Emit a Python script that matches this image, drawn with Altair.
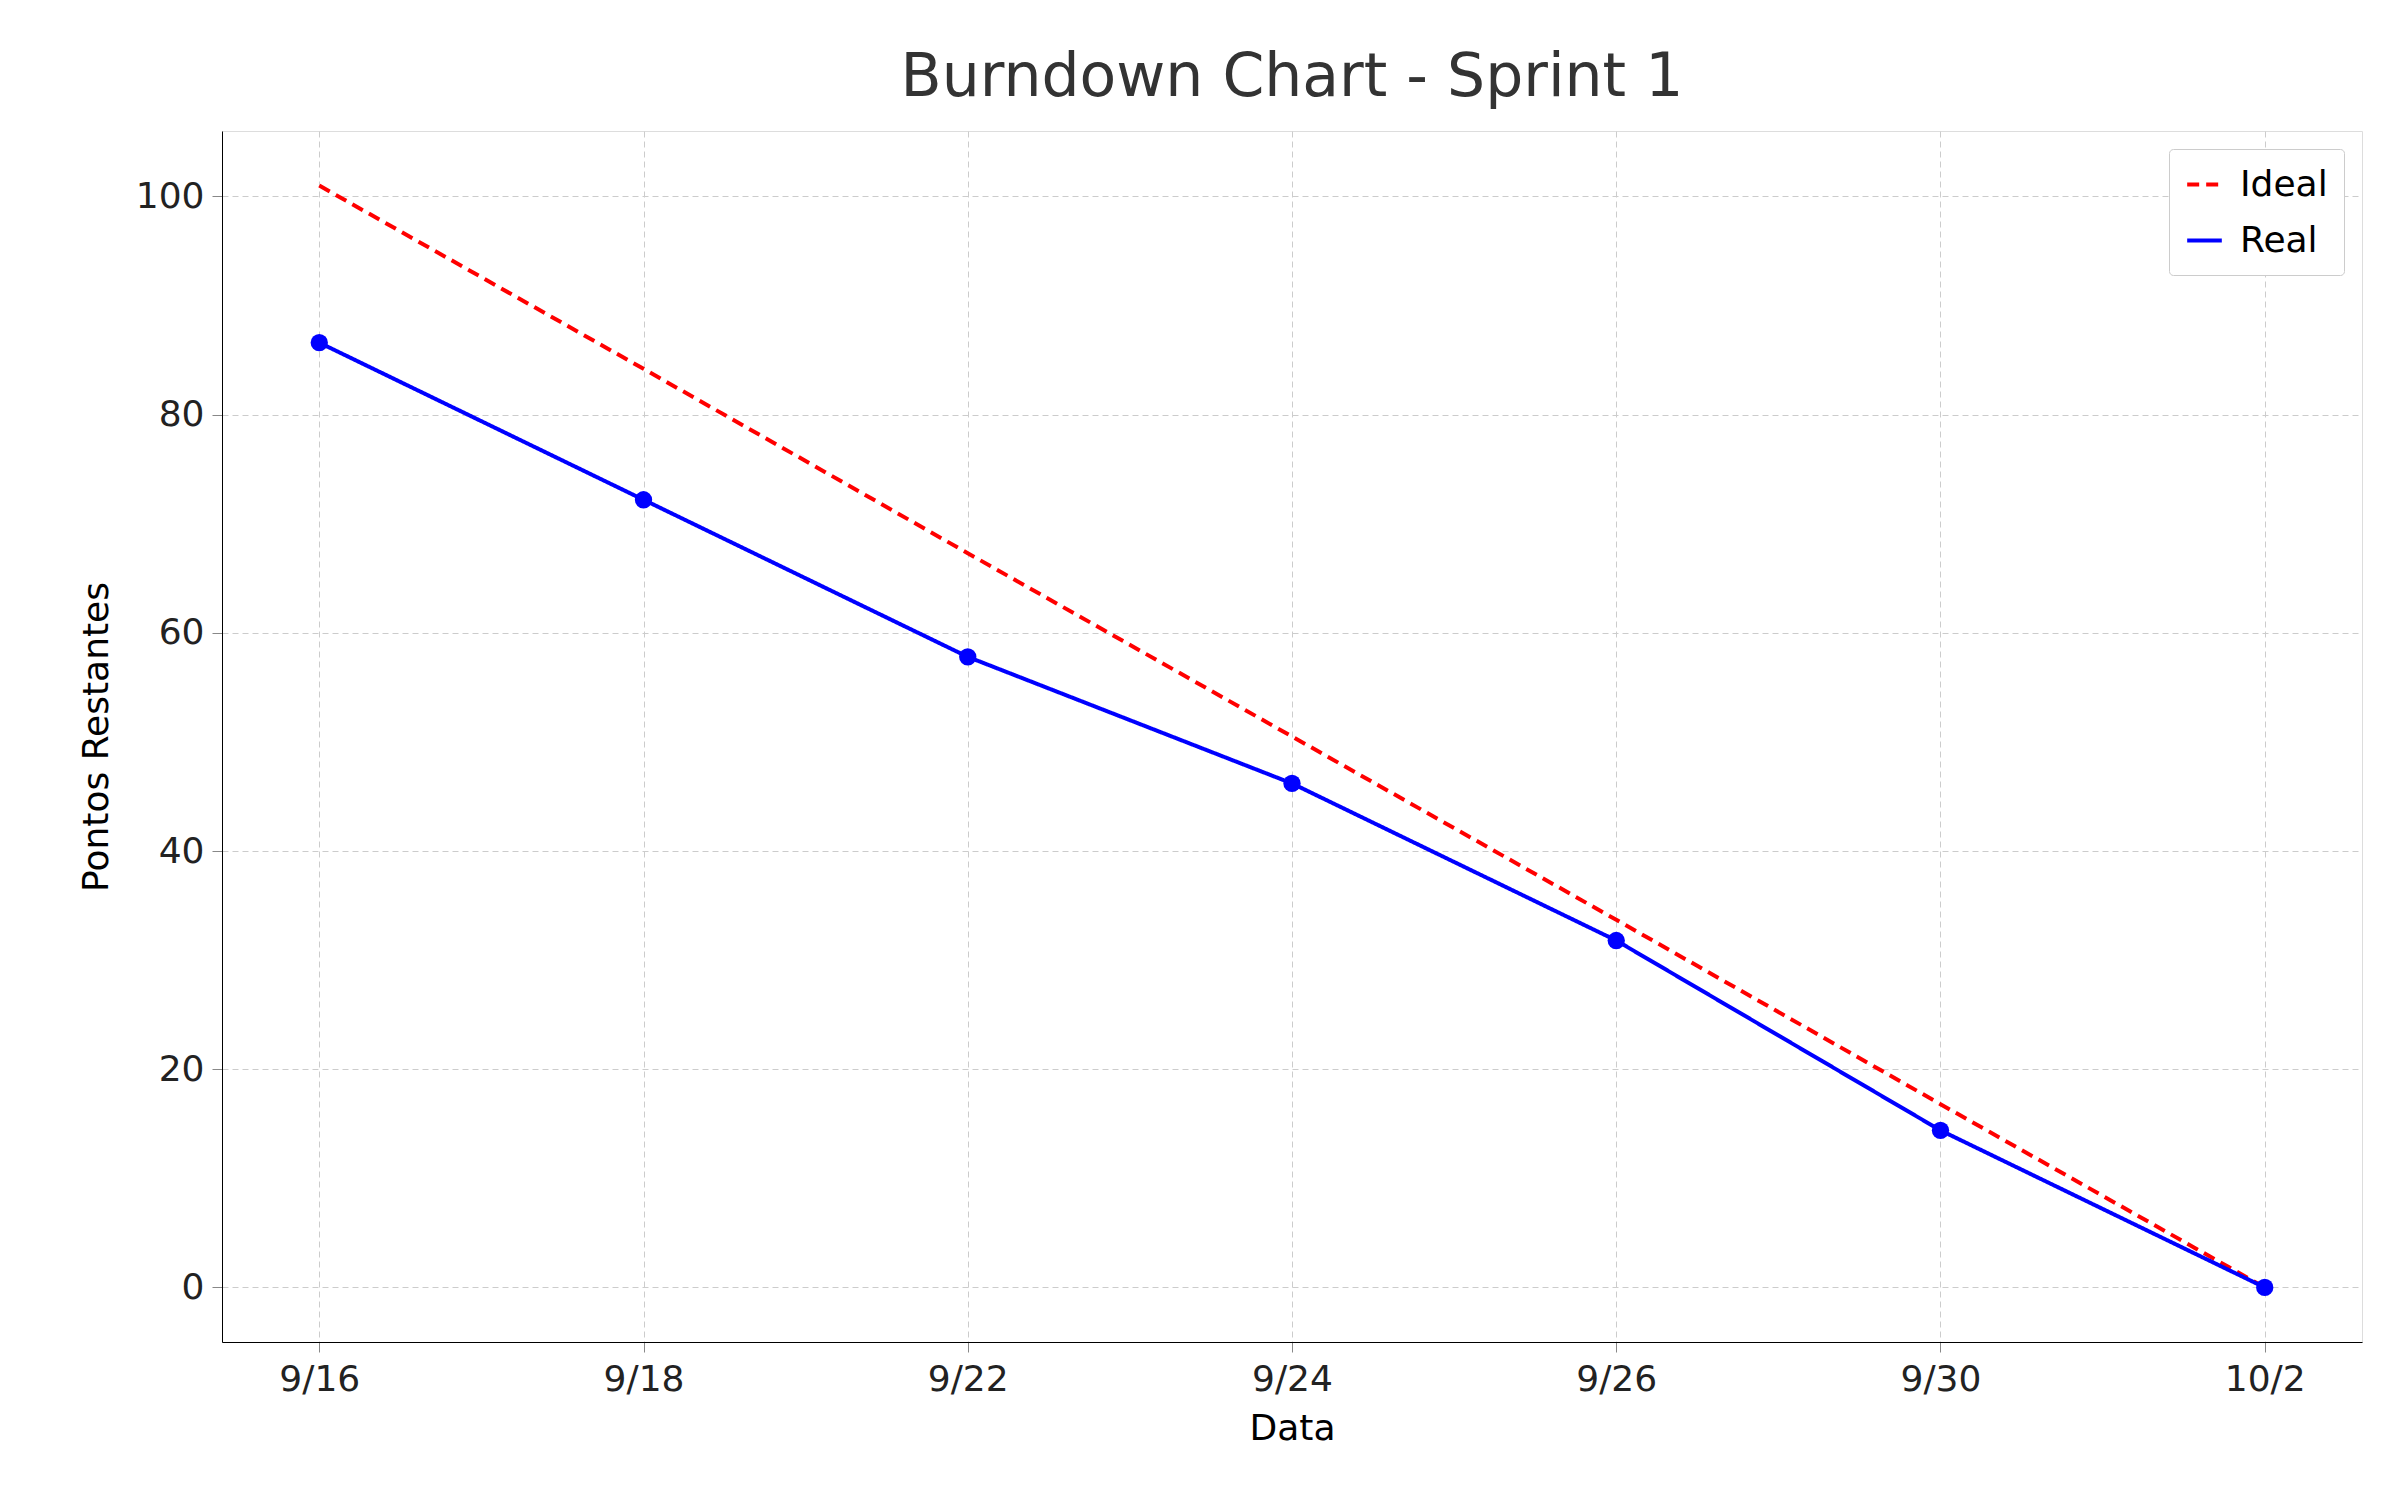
import pandas as pd
import altair as alt

datas = ["9/16", "9/18", "9/22", "9/24", "9/26", "9/30", "10/2"]
ideal = [101.0, 84.2, 67.3, 50.5, 33.7, 16.8, 0.0]
real = [86.6, 72.2, 57.8, 46.2, 31.8, 14.4, 0.0]

df = pd.concat([
    pd.DataFrame({"Data": datas, "Pontos": ideal, "Serie": "Ideal"}),
    pd.DataFrame({"Data": datas, "Pontos": real, "Serie": "Real"}),
])

x = alt.X("Data:N", sort=datas, title="Data",
          scale=alt.Scale(type="point", padding=0.3),
          axis=alt.Axis(labelAngle=0, grid=True, gridDash=[6, 4], gridColor="#cccccc",
                        tickSize=10, labelFontSize=36, titleFontSize=36, labelPadding=10,
                        titlePadding=14, titleFontWeight="normal", domainColor="black",
                        labelColor="#222"))
y = alt.Y("Pontos:Q", title="Pontos Restantes",
          scale=alt.Scale(domain=[-5, 106], nice=False, zero=False),
          axis=alt.Axis(values=[0, 20, 40, 60, 80, 100], grid=True, gridDash=[6, 4],
                        gridColor="#cccccc", tickSize=10, labelFontSize=36, titleFontSize=36,
                        labelPadding=8, titlePadding=20, titleFontWeight="normal",
                        domainColor="black", labelColor="#222"))
cor = alt.Color("Serie:N", scale=alt.Scale(domain=["Ideal", "Real"], range=["red", "blue"]),
                legend=alt.Legend(title=None, orient="top-right", labelFontSize=36,
                                  symbolStrokeWidth=4, symbolSize=1200, symbolType="stroke",
                                  strokeColor="#cccccc", padding=16, cornerRadius=4,
                                  fillColor="white", rowPadding=18, labelOffset=16))
dash = alt.StrokeDash("Serie:N", scale=alt.Scale(domain=["Ideal", "Real"], range=[[12, 7], [1, 0]]),
                      legend=None)

linhas = alt.Chart(df).mark_line(strokeWidth=4).encode(x=x, y=y, color=cor, strokeDash=dash)
pontos = alt.Chart(df[df["Serie"] == "Real"]).mark_circle(size=300, opacity=1, color="blue").encode(
    x=x, y=y)

chart = (linhas + pontos).properties(
    width=2140, height=1211,
    padding={"left": 70, "top": 40, "right": 10, "bottom": 10},
    title=alt.Title("Burndown Chart - Sprint 1", fontSize=60, fontWeight="normal",
                    color="#333", offset=22),
).configure_view(stroke=None).configure(font="DejaVu Sans")

chart.save("out.html", embed_options={"renderer": "svg", "actions": False})
